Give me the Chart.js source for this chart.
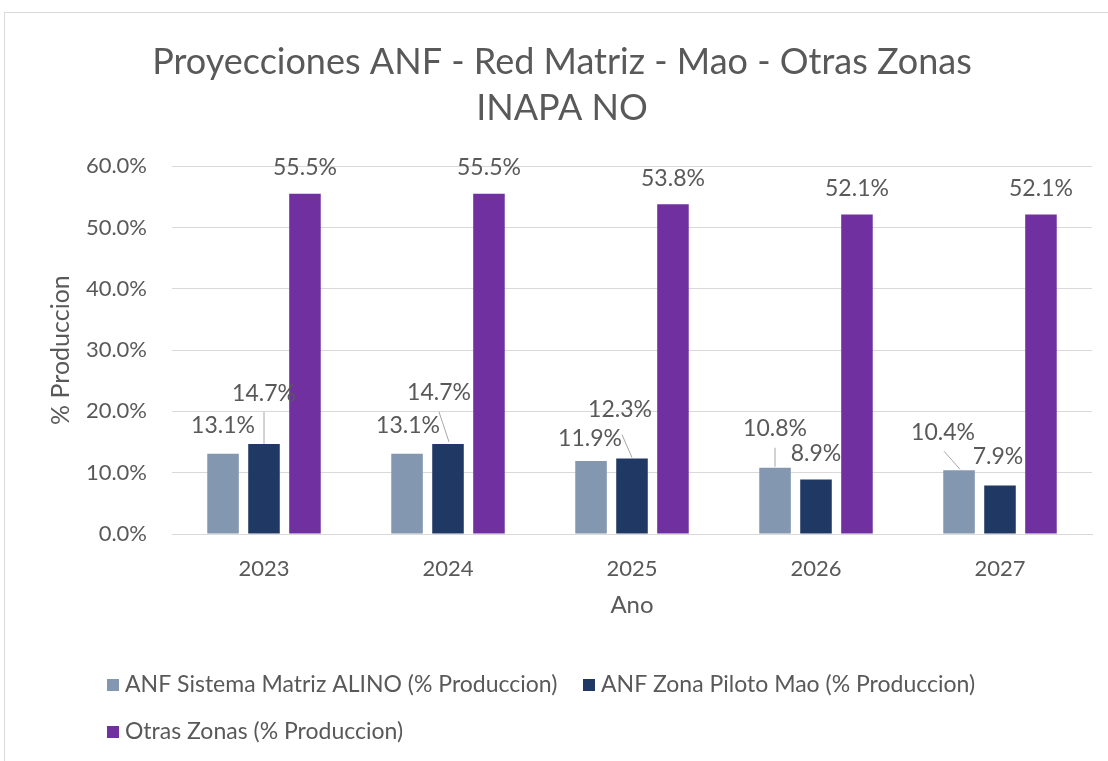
<!DOCTYPE html>
<html>
<head>
<meta charset="utf-8">
<script src="https://cdn.jsdelivr.net/npm/chart.js@4.4.1/dist/chart.umd.min.js"></script>
<style>
  body { margin: 0; background: #fff; }
  #frame { position: absolute; left: 4px; top: 12px; width: 1110px; height: 760px;
           border-top: 1px solid #d9d9d9; border-left: 1px solid #d9d9d9; }
  #wrap { position: absolute; left: 0; top: 0; width: 1108px; height: 761px; }
</style>
</head>
<body>
<div id="frame"></div>
<div id="wrap"><canvas id="chart"></canvas></div>
<script>
const years = ["2023", "2024", "2025", "2026", "2027"];
const seriesNames = [
  "ANF Sistema Matriz ALINO (% Produccion)",
  "ANF Zona Piloto Mao (% Produccion)",
  "Otras Zonas (% Produccion)",
];
const sistemaMatriz = [13.1, 13.1, 11.9, 10.8, 10.4];
const zonaPilotoMao = [14.7, 14.7, 12.3, 8.9, 7.9];
const otrasZonas = [55.5, 55.5, 53.8, 52.1, 52.1];
const yTicks = [0, 10, 20, 30, 40, 50, 60];

const textGray = "#595959";
const font = "Lato";

// where each value label sits, relative to the top of its bar (dx, dy)
const labelShift = [
  [[0, -28], [1, -28], [-1, -22], [0, -39], [-16, -38]],
  [[0, -50], [-9, -51], [-12, -49], [0, -26], [-2, -29]],
  [[0, -26], [0, -26], [0, -26], [0, -26], [0, -26]],
];
// leader lines: [dataset, index, startDx, startDy, endDx, endDy]
const leaders = [
  [1, 0, 0, 0, 0, -32],
  [1, 1, 1, -2, -9, -32],
  [1, 2, 0, -1, -10, -24],
  [0, 3, 0, -1, 0, -20],
  [0, 4, 1, -1, -15, -19],
];

const valueLabels = {
  id: "valueLabels",
  afterDatasetsDraw(chart) {
    const ctx = chart.ctx;
    ctx.save();
    ctx.strokeStyle = "#a6a6a6";
    ctx.lineWidth = 1;
    leaders.forEach(([d, i, sx, sy, ex, ey]) => {
      const bar = chart.getDatasetMeta(d).data[i];
      ctx.beginPath();
      ctx.moveTo(bar.x + sx, bar.y + sy);
      ctx.lineTo(bar.x + ex, bar.y + ey);
      ctx.stroke();
    });
    ctx.font = "23px " + font;
    ctx.fillStyle = textGray;
    ctx.textAlign = "center";
    ctx.textBaseline = "middle";
    chart.data.datasets.forEach((ds, d) => {
      chart.getDatasetMeta(d).data.forEach((bar, i) => {
        const [dx, dy] = labelShift[d][i];
        ctx.fillText(ds.data[i].toFixed(1) + "%", bar.x + dx, bar.y + dy);
      });
    });
    ctx.restore();
  },
};

// legend in two rows, left aligned, like the original
const bottomLegend = {
  id: "bottomLegend",
  afterDraw(chart) {
    const ctx = chart.ctx;
    const spots = [[107, 685], [583, 685], [107, 732]];
    ctx.save();
    ctx.font = "23px " + font;
    ctx.textBaseline = "middle";
    chart.data.datasets.forEach((ds, d) => {
      const [x, y] = spots[d];
      ctx.fillStyle = ds.backgroundColor;
      ctx.fillRect(x, y - 6, 12, 12);
      ctx.fillStyle = textGray;
      ctx.fillText(ds.label, x + 18, y);
    });
    ctx.restore();
  },
};

new Chart(document.getElementById("chart"), {
  type: "bar",
  data: {
    labels: years,
    datasets: [
      { label: seriesNames[0], data: sistemaMatriz, backgroundColor: "#8497b0" },
      { label: seriesNames[1], data: zonaPilotoMao, backgroundColor: "#203864" },
      { label: seriesNames[2], data: otrasZonas, backgroundColor: "#7030a0" },
    ],
  },
  options: {
    responsive: true,
    maintainAspectRatio: false,
    animation: false,
    categoryPercentage: 0.668,
    barPercentage: 0.77,
    layout: { padding: { left: 32, right: 16, top: 0, bottom: 126 } },
    plugins: {
      legend: { display: false },
      tooltip: { enabled: false },
      title: {
        display: true,
        text: ["Proyecciones ANF - Red Matriz - Mao - Otras Zonas", "INAPA NO"],
        color: textGray,
        font: { family: font, size: 36, weight: "normal", lineHeight: 1.28 },
        padding: { top: 39, bottom: 35 },
      },
    },
    scales: {
      x: {
        grid: { display: false },
        border: { color: "#d9d9d9" },
        ticks: { color: textGray, font: { family: font, size: 22 }, padding: 14 },
        title: { display: true, text: "Ano", color: textGray, font: { family: font, size: 24 }, padding: 15 },
        afterFit(scale) { scale.height = 101; },
      },
      y: {
        min: 0,
        max: 60,
        afterBuildTicks(scale) { scale.ticks = yTicks.map(v => ({ value: v })); },
        grid: { color: "#d9d9d9", drawTicks: false },
        border: { display: false },
        ticks: {
          color: textGray,
          font: { family: font, size: 22 },
          padding: 25,
          callback: v => v.toFixed(1) + "%",
        },
        title: { display: true, text: "% Produccion", color: textGray, font: { family: font, size: 25 }, padding: 14 },
        afterFit(scale) { scale.width = 140; },
      },
    },
  },
  plugins: [valueLabels, bottomLegend],
});
</script>
</body>
</html>
